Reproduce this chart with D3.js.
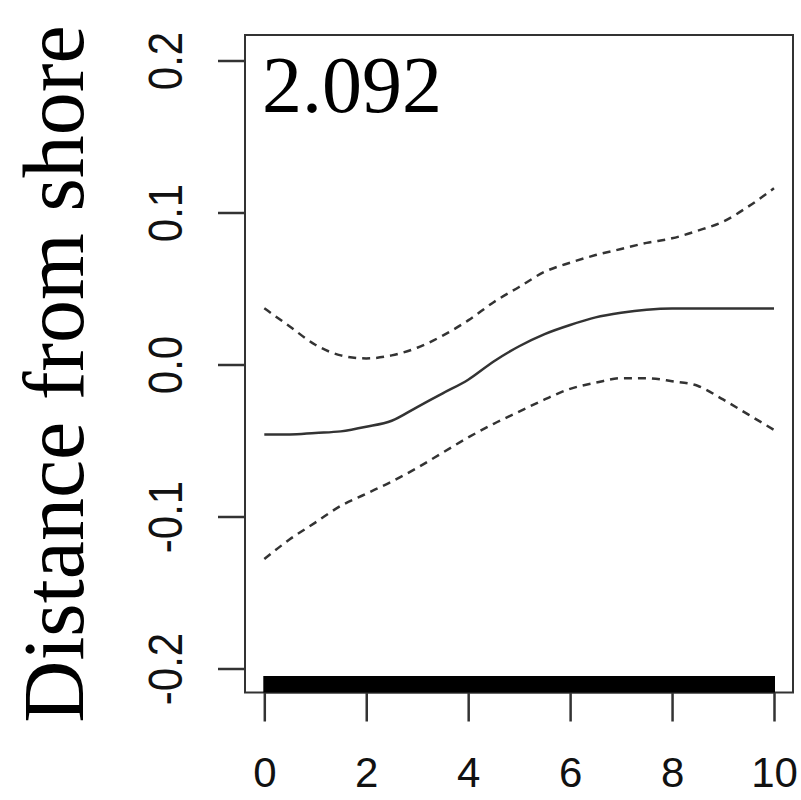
<!DOCTYPE html>
<html>
<head>
<meta charset="utf-8">
<script src="https://cdn.jsdelivr.net/npm/d3@7"></script>
<style>
  body { margin: 0; background: #fff; }
  svg { display: block; }
</style>
</head>
<body>
<div id="chart"></div>
<script>
// smooth term: distance from shore (x) vs partial effect
const xVals   = [0, 0.5, 1, 1.5, 2, 2.5, 3, 3.5, 4, 4.5, 5, 5.5, 6, 6.5, 7, 7.5, 8, 8.5, 9, 9.5, 10];
const fitVals = [-0.046, -0.046, -0.045, -0.044, -0.041, -0.037, -0.028, -0.019, -0.010, 0.002,
                 0.012, 0.020, 0.026, 0.031, 0.034, 0.036, 0.0368, 0.0368, 0.0368, 0.0368, 0.0368];
const upperVals = [0.037, 0.025, 0.013, 0.006, 0.004, 0.006, 0.011, 0.019, 0.029, 0.041,
                   0.051, 0.061, 0.067, 0.072, 0.076, 0.080, 0.083, 0.088, 0.094, 0.104, 0.116];
const lowerVals = [-0.128, -0.115, -0.104, -0.093, -0.085, -0.077, -0.068, -0.058, -0.048, -0.039,
                   -0.031, -0.023, -0.016, -0.012, -0.009, -0.009, -0.011, -0.014, -0.023, -0.033, -0.043];
const xTicks = [0, 2, 4, 6, 8, 10];
const yTicks = [-0.2, -0.1, 0.0, 0.1, 0.2];
const rugRange = [0, 10];
const edfLabel = "2.092";
const yTitle = "Distance from shore";

const width = 801, height = 800;
const box = { left: 245, right: 793, top: 35, bottom: 692.5 };

const svg = d3.select("#chart").append("svg")
  .attr("width", width)
  .attr("height", height);

const x = d3.scaleLinear().domain([0, 10]).range([264.3, 774]);
const y = d3.scaleLinear().domain([-0.2, 0.2]).range([668.5, 60.5]);

const ink = "#333";

// plot frame
svg.append("rect")
  .attr("x", box.left).attr("y", box.top)
  .attr("width", box.right - box.left)
  .attr("height", box.bottom - box.top)
  .attr("fill", "none")
  .attr("stroke", ink)
  .attr("stroke-width", 2);

// x axis
const xAxis = svg.append("g")
  .attr("transform", "translate(0," + box.bottom + ")")
  .call(d3.axisBottom(x).tickValues(xTicks).tickSize(29).tickPadding(8)
          .tickFormat(d3.format("d")));
xAxis.select(".domain")
  .attr("d", "M" + x(0) + ",0H" + x(10))
  .attr("stroke", ink).attr("stroke-width", 2);
xAxis.selectAll(".tick line").attr("stroke", ink).attr("stroke-width", 2.5);
xAxis.selectAll(".tick text")
  .attr("font-family", "'Liberation Sans', Arial, sans-serif")
  .attr("font-size", 42)
  .attr("fill", "#111")
  .attr("dy", "0.71em")
  .attr("y", 65);

// y axis
const yAxis = svg.append("g")
  .attr("transform", "translate(" + box.left + ",0)")
  .call(d3.axisLeft(y).tickValues(yTicks).tickSize(27).tickFormat(d3.format(".1f")));
yAxis.select(".domain").remove();
yAxis.selectAll(".tick line").attr("stroke", ink).attr("stroke-width", 2.5);
yAxis.selectAll(".tick text").remove();
yAxis.selectAll(".tick").append("text")
  .attr("transform", "translate(-63,0) rotate(-90) scale(1,1.13)")
  .attr("text-anchor", "middle")
  .attr("font-family", "'Liberation Sans', Arial, sans-serif")
  .attr("font-size", 42)
  .attr("fill", "#111")
  .text(d => d3.format(".1f")(d).replace("−", "-"));

// rug
svg.append("rect")
  .attr("x", x(rugRange[0]) - 1)
  .attr("y", 676)
  .attr("width", x(rugRange[1]) - x(rugRange[0]) + 2)
  .attr("height", box.bottom - 676)
  .attr("fill", "#000");

// curves
const line = d3.line()
  .x(d => x(d[0]))
  .y(d => y(d[1]))
  .curve(d3.curveMonotoneX);

svg.append("path")
  .datum(d3.zip(xVals, fitVals))
  .attr("d", line)
  .attr("fill", "none")
  .attr("stroke", ink)
  .attr("stroke-width", 2.5);

[upperVals, lowerVals].forEach(vals => {
  svg.append("path")
    .datum(d3.zip(xVals, vals))
    .attr("d", line)
    .attr("fill", "none")
    .attr("stroke", ink)
    .attr("stroke-width", 2.5)
    .attr("stroke-dasharray", "8,6");
});

// edf label
svg.append("text")
  .attr("x", 262)
  .attr("y", 112)
  .attr("font-family", "'Liberation Serif', 'Times New Roman', serif")
  .attr("font-size", 80)
  .attr("fill", "#000")
  .text(edfLabel);

// y title
svg.append("text")
  .attr("transform", "translate(83,374) rotate(-90)")
  .attr("text-anchor", "middle")
  .attr("font-family", "'Liberation Serif', 'Times New Roman', serif")
  .attr("font-size", 86)
  .attr("fill", "#000")
  .text(yTitle);
</script>
</body>
</html>
